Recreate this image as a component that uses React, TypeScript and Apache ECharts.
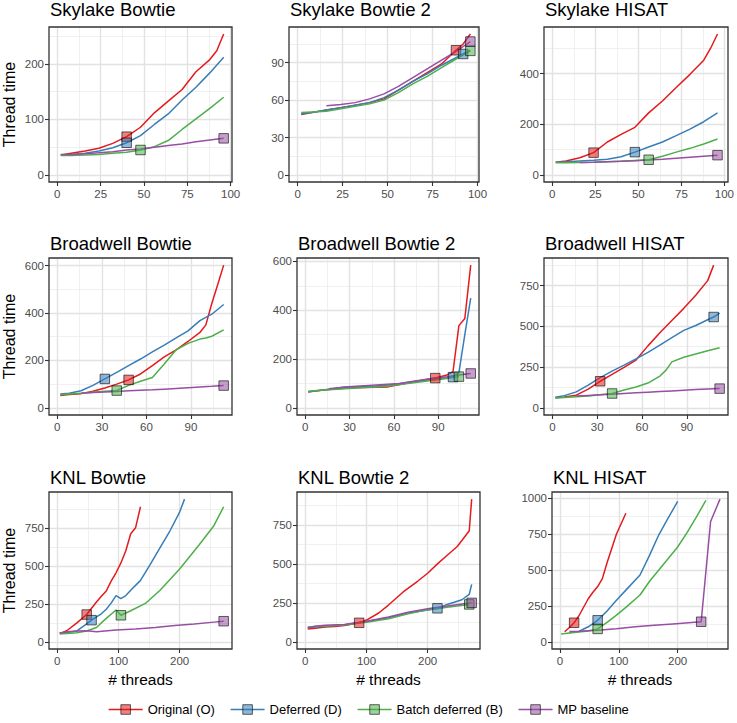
import React, { useEffect, useRef } from "react";
import * as echarts from "echarts";

const FONT = "'Liberation Sans', Arial, Helvetica, sans-serif";

const seriesNames = ["Original (O)", "Deferred (D)", "Batch deferred (B)", "MP baseline"];
const lineColors = ["#E41A1C", "#377EB8", "#4DAF4A", "#984EA3"];
const markerFills = ["rgba(228,26,28,0.55)", "rgba(55,126,184,0.55)", "rgba(77,175,74,0.55)", "rgba(152,78,163,0.55)"];

const panelTitles = [
  "Skylake Bowtie", "Skylake Bowtie 2", "Skylake HISAT",
  "Broadwell Bowtie", "Broadwell Bowtie 2", "Broadwell HISAT",
  "KNL Bowtie", "KNL Bowtie 2", "KNL HISAT",
];

// ---- Skylake Bowtie
const skyBowtieO = [[2,36],[8,39],[16,43],[24,48],[32,57],[40,69],[48,86],[56,112],[64,133],[72,154],[80,186],[88,208],[92,224],[96,254]];
const skyBowtieD = [[2,36],[8,37],[16,39],[24,43],[32,49],[40,58],[48,71],[56,91],[64,110],[72,135],[80,158],[88,184],[96,212]];
const skyBowtieB = [[2,35],[8,35],[16,36],[24,37],[32,39],[40,41],[48,45],[56,51],[64,62],[72,82],[80,101],[88,120],[96,140]];
const skyBowtieM = [[2,37],[8,37],[16,38],[24,40],[32,42],[40,45],[48,47],[56,50],[64,53],[72,56],[80,60],[88,63],[96,66]];
const skyBowtieMarkX = [40, 40, 48, 96];

// ---- Skylake Bowtie 2
const skyBowtie2O = [[2,48.5],[8,50],[16,52],[24,54],[32,56],[40,58],[48,61],[56,68],[64,75],[72,82],[80,89],[88,100],[92,105],[96,113]];
const skyBowtie2D = [[2,49],[8,50],[16,52],[24,54],[32,56],[40,58],[48,62],[56,68],[64,75],[72,81],[80,88],[88,94],[92,97],[96,100]];
const skyBowtie2B = [[2,50],[8,50.5],[16,51],[24,53],[32,55],[40,57],[48,60],[56,66],[64,73],[72,79],[80,86],[88,93],[96,99.5]];
const skyBowtie2M = [[16,55.5],[24,56.5],[32,58],[40,61],[48,65],[56,71],[64,78],[72,85],[80,92],[88,99],[96,107]];
const skyBowtie2MarkX = [88, 92, 96, 96];

// ---- Skylake HISAT
const skyHisatO = [[2,50],[8,55],[16,68],[24,88],[32,130],[40,160],[48,188],[56,245],[64,292],[72,345],[80,397],[88,453],[92,500],[96,556]];
const skyHisatD = [[2,50],[8,52],[16,55],[24,58],[32,62],[40,72],[48,90],[56,110],[64,130],[72,155],[80,181],[88,210],[96,245]];
const skyHisatB = [[2,48],[8,48],[16,49],[24,50],[32,52],[40,54],[48,57],[56,60],[64,74],[72,90],[80,105],[88,122],[96,142]];
const skyHisatM = [[16,49],[24,50],[32,52],[40,54],[48,56],[56,59],[64,62],[72,66],[80,70],[88,74],[96,78]];
const skyHisatMarkX = [24, 48, 56, 96];

// ---- Broadwell Bowtie
const bdwBowtieO = [[2,52],[8,56],[16,60],[24,70],[32,84],[40,100],[48,118],[56,143],[64,178],[72,215],[80,245],[88,280],[96,318],[100,350],[104,440],[108,520],[112,602]];
const bdwBowtieD = [[2,58],[8,62],[16,72],[24,95],[32,122],[40,150],[48,178],[56,206],[64,236],[72,265],[80,295],[88,325],[96,368],[104,395],[112,436]];
const bdwBowtieB = [[2,55],[8,58],[16,62],[24,66],[32,70],[40,73],[48,95],[56,112],[64,128],[72,185],[80,245],[88,272],[96,290],[100,295],[104,302],[112,329]];
const bdwBowtieM = [[16,62],[24,65],[32,67],[40,69],[48,72],[56,74],[64,76],[72,79],[80,82],[88,85],[96,88],[104,91],[112,94]];
const bdwBowtieMarkX = [48, 32, 40, 112];

// ---- Broadwell Bowtie 2
const bdwBowtie2O = [[2,65],[8,70],[16,75],[24,79],[32,82],[40,83],[48,84],[56,86],[64,96],[72,105],[80,114],[88,122],[96,135],[100,148],[104,337],[108,366],[112,585]];
const bdwBowtie2D = [[2,66],[8,70],[16,76],[24,82],[32,86],[40,88],[48,90],[56,94],[64,100],[72,106],[80,112],[88,118],[96,123],[100,126],[104,144],[108,300],[112,450]];
const bdwBowtie2B = [[2,68],[8,71],[16,74],[24,77],[32,80],[40,83],[48,86],[56,90],[64,96],[72,102],[80,108],[88,114],[96,120],[104,128]];
const bdwBowtie2M = [[16,78],[24,84],[32,88],[40,91],[48,94],[56,97],[64,100],[72,108],[80,115],[88,122],[96,128],[104,135],[112,141]];
const bdwBowtie2MarkX = [88, 100, 104, 112];

// ---- Broadwell HISAT
const bdwHisatO = [[2,62],[8,66],[16,78],[24,115],[32,163],[40,205],[48,248],[56,293],[64,380],[72,460],[80,535],[88,610],[96,690],[104,780],[108,875]];
const bdwHisatD = [[2,65],[8,75],[16,98],[24,140],[32,185],[40,225],[48,262],[56,300],[64,340],[72,385],[80,430],[88,475],[96,505],[104,540],[108,557],[112,581]];
const bdwHisatB = [[2,60],[8,63],[16,68],[24,73],[32,80],[40,88],[48,110],[56,128],[64,152],[72,195],[76,230],[80,282],[88,310],[96,330],[104,350],[112,368]];
const bdwHisatM = [[16,72],[24,76],[32,80],[40,84],[48,88],[56,92],[64,96],[72,100],[80,104],[88,108],[96,112],[104,115],[112,118]];
const bdwHisatMarkX = [32, 108, 40, 112];

// ---- KNL Bowtie
const knlBowtieO = [[4,59],[8,60],[16,75],[32,125],[48,180],[64,262],[72,300],[80,335],[88,400],[96,455],[104,520],[112,600],[120,712],[128,752],[136,890]];
const knlBowtieD = [[4,60],[16,62],[32,72],[48,118],[56,143],[64,165],[72,185],[80,215],[88,255],[96,305],[104,285],[112,305],[120,340],[136,405],[152,510],[168,620],[184,730],[200,855],[208,940]];
const knlBowtieB = [[4,52],[16,55],[32,60],[48,72],[64,95],[80,155],[96,210],[104,175],[120,205],[144,253],[168,340],[200,480],[232,640],[256,765],[272,890]];
const knlBowtieM = [[4,58],[16,66],[32,72],[48,73],[64,66],[96,78],[128,85],[160,95],[192,108],[224,118],[256,130],[272,136]];
const knlBowtieMarkX = [48, 56, 104, 272];

// ---- KNL Bowtie 2
const knlBowtie2O = [[4,82],[16,88],[32,95],[48,98],[64,105],[88,122],[100,140],[120,185],[136,236],[160,320],[184,390],[200,440],[216,500],[232,555],[248,610],[256,650],[268,712],[272,915]];
const knlBowtie2D = [[4,90],[16,95],[32,100],[64,110],[100,130],[136,155],[168,185],[200,205],[216,215],[232,240],[256,270],[268,305],[272,369]];
const knlBowtie2B = [[4,95],[16,98],[32,102],[64,108],[100,125],[136,148],[168,180],[200,205],[232,222],[268,240]];
const knlBowtie2M = [[4,90],[16,100],[32,106],[64,112],[88,125],[100,132],[136,160],[168,190],[200,212],[232,230],[272,250]];
const knlBowtie2MarkX = [88, 216, 268, 272];

// ---- KNL HISAT
const knlHisatO = [[8,70],[16,100],[24,133],[32,180],[48,300],[56,345],[64,385],[72,440],[80,550],[96,750],[112,895]];
const knlHisatD = [[16,65],[32,72],[48,105],[64,150],[80,215],[96,290],[112,360],[136,465],[152,600],[168,745],[184,862],[200,977]];
const knlHisatB = [[2,55],[16,62],[32,68],[48,75],[64,90],[80,135],[96,186],[112,240],[136,326],[152,420],[168,500],[184,580],[200,660],[216,760],[232,870],[248,984]];
const knlHisatM = [[16,72],[32,74],[64,80],[96,92],[128,105],[160,115],[192,125],[240,140],[256,837],[272,993]];
const knlHisatMarkX = [24, 64, 64, 240];

// ---- tick breaks
const xTicksSkylake = [0, 25, 50, 75, 100];
const xTicksBroadwell = [0, 30, 60, 90];
const xTicksKnl = [0, 100, 200];
const yTicksSkyBowtie = [0, 100, 200];
const yTicksSkyBowtie2 = [0, 30, 60, 90];
const yTicksSkyHisat = [0, 200, 400];
const yTicksBdwBowtie = [0, 200, 400, 600];
const yTicksBdwHisat = [0, 250, 500, 750];
const yTicksKnl = [0, 250, 500, 750];
const yTicksKnlHisat = [0, 250, 500, 750, 1000];

const panelSeries = [
  [skyBowtieO, skyBowtieD, skyBowtieB, skyBowtieM],
  [skyBowtie2O, skyBowtie2D, skyBowtie2B, skyBowtie2M],
  [skyHisatO, skyHisatD, skyHisatB, skyHisatM],
  [bdwBowtieO, bdwBowtieD, bdwBowtieB, bdwBowtieM],
  [bdwBowtie2O, bdwBowtie2D, bdwBowtie2B, bdwBowtie2M],
  [bdwHisatO, bdwHisatD, bdwHisatB, bdwHisatM],
  [knlBowtieO, knlBowtieD, knlBowtieB, knlBowtieM],
  [knlBowtie2O, knlBowtie2D, knlBowtie2B, knlBowtie2M],
  [knlHisatO, knlHisatD, knlHisatB, knlHisatM],
];
const panelMarkX = [skyBowtieMarkX, skyBowtie2MarkX, skyHisatMarkX, bdwBowtieMarkX, bdwBowtie2MarkX, bdwHisatMarkX, knlBowtieMarkX, knlBowtie2MarkX, knlHisatMarkX];
const panelXTicks = [xTicksSkylake, xTicksSkylake, xTicksSkylake, xTicksBroadwell, xTicksBroadwell, xTicksBroadwell, xTicksKnl, xTicksKnl, xTicksKnl];
const panelYTicks = [yTicksSkyBowtie, yTicksSkyBowtie2, yTicksSkyHisat, yTicksBdwBowtie, yTicksBdwBowtie, yTicksBdwHisat, yTicksKnl, yTicksKnl, yTicksKnlHisat];

// ---- layout (panel boxes in px)
const panelBoxes = [
  { left: 49, top: 27, width: 183, height: 155 },
  { left: 289, top: 27, width: 190, height: 155 },
  { left: 544, top: 27, width: 184, height: 155 },
  { left: 49, top: 258, width: 183, height: 157 },
  { left: 297, top: 258, width: 182, height: 157 },
  { left: 544, top: 258, width: 184, height: 157 },
  { left: 49, top: 492, width: 183, height: 157 },
  { left: 297, top: 492, width: 183, height: 157 },
  { left: 552, top: 492, width: 176, height: 157 },
];
const titleY = [9, 9, 9, 243, 243, 243, 477, 477, 477];

function minorBreaks(ticks: number[], lo: number, hi: number) {
  const step = ticks[1] - ticks[0];
  const out: number[] = [];
  for (let v = ticks[0] - step / 2; v <= hi; v += step) if (v >= lo) out.push(v);
  return out;
}

const fmt = (v: number) => String(Math.round(v));

function buildOption() {
  const grid: any[] = [];
  const xAxis: any[] = [];
  const yAxis: any[] = [];
  const series: any[] = [];
  const markerSeries: any[] = [];
  const graphic: any[] = [];

  panelSeries.forEach((sers, i) => {
    const box = panelBoxes[i];
    let xMax = 0, yMax = 0;
    sers.forEach((s) => s.forEach(([x, y]) => { xMax = Math.max(xMax, x); yMax = Math.max(yMax, y); }));
    const xlo = -0.05 * xMax, xhi = 1.05 * xMax;
    const ylo = -0.05 * yMax, yhi = 1.05 * yMax;
    const xt = panelXTicks[i].filter((v) => v >= xlo && v <= xhi);
    const yt = panelYTicks[i].filter((v) => v >= ylo && v <= yhi);

    grid.push({ left: box.left, top: box.top, width: box.width, height: box.height, show: false });
    xAxis.push({
      type: "value", gridIndex: i, min: xlo, max: xhi,
      axisLine: { show: false, onZero: false },
      axisTick: { show: true, length: 4, customValues: xt, lineStyle: { color: "#333333", width: 1.1 } },
      axisLabel: { customValues: xt, formatter: fmt, color: "#4D4D4D", fontSize: 11.5, margin: 6, fontFamily: FONT },
      splitLine: { show: false },
    });
    yAxis.push({
      type: "value", gridIndex: i, min: ylo, max: yhi,
      axisLine: { show: false, onZero: false },
      axisTick: { show: true, length: 4, customValues: yt, lineStyle: { color: "#333333", width: 1.1 } },
      axisLabel: { customValues: yt, formatter: fmt, color: "#4D4D4D", fontSize: 11.5, margin: 5, fontFamily: FONT },
      splitLine: { show: false },
    });

    const gl: any[] = [];
    minorBreaks(panelXTicks[i], xlo, xhi).forEach((v) => gl.push({ xAxis: v, lineStyle: { color: "#ECECEC", width: 0.8, type: "solid" } }));
    minorBreaks(panelYTicks[i], ylo, yhi).forEach((v) => gl.push({ yAxis: v, lineStyle: { color: "#ECECEC", width: 0.8, type: "solid" } }));
    xt.forEach((v) => gl.push({ xAxis: v, lineStyle: { color: "#E2E2E2", width: 1.4, type: "solid" } }));
    yt.forEach((v) => gl.push({ yAxis: v, lineStyle: { color: "#E2E2E2", width: 1.4, type: "solid" } }));
    series.push({
      type: "line", xAxisIndex: i, yAxisIndex: i, data: [], z: 1, silent: true,
      markLine: { silent: true, z: 1, zlevel: 0, symbol: ["none", "none"], label: { show: false }, animation: false, data: gl },
    });

    sers.forEach((s, k) => {
      series.push({
        type: "line", name: seriesNames[k], xAxisIndex: i, yAxisIndex: i,
        data: s, symbol: "rect", symbolSize: 9, showSymbol: false, z: 3,
        lineStyle: { color: lineColors[k], width: 1.5 },
        itemStyle: { color: markerFills[k], borderColor: "rgba(0,0,0,0.6)", borderWidth: 1 },
        emphasis: { disabled: true },
      });
      const mx = panelMarkX[i][k];
      const pt = s.find((p) => p[0] === mx);
      if (pt) {
        markerSeries.push({
          type: "scatter", name: seriesNames[k], xAxisIndex: i, yAxisIndex: i,
          data: [pt], symbol: "rect", symbolSize: 9.5, z: 5,
          itemStyle: { color: markerFills[k], borderColor: "rgba(0,0,0,0.6)", borderWidth: 1, opacity: 1 },
          emphasis: { disabled: true },
        });
      }
    });

    graphic.push({
      type: "rect", z: 100, silent: true,
      shape: { x: box.left, y: box.top, width: box.width, height: box.height },
      style: { fill: "none", stroke: "#333333", lineWidth: 1.3 },
    });
    graphic.push({
      type: "text", x: box.left + 1, y: titleY[i], z: 100,
      style: { text: panelTitles[i], fontSize: 18.5, fontFamily: FONT, fill: "#000000", align: "left", verticalAlign: "middle" },
    });
    if (i % 3 === 0) {
      graphic.push({
        type: "text", x: 9, y: box.top + box.height / 2, rotation: Math.PI / 2, z: 100,
        style: { text: "Thread time", fontSize: 16, fontFamily: FONT, fill: "#000000", align: "center", verticalAlign: "middle" },
      });
    }
    if (i >= 6) {
      graphic.push({
        type: "text", x: box.left + box.width / 2, y: 679, z: 100,
        style: { text: "# threads", fontSize: 15.5, fontFamily: FONT, fill: "#000000", align: "center", verticalAlign: "middle" },
      });
    }
  });

  return {
    animation: false,
    backgroundColor: "#ffffff",
    textStyle: { fontFamily: FONT },
    grid, xAxis, yAxis,
    series: [...series, ...markerSeries],
    graphic,
    legend: {
      data: seriesNames, left: "center", top: 698,
      itemWidth: 34, itemHeight: 12, itemGap: 15,
      selectedMode: false,
      textStyle: { fontSize: 13, color: "#000000", fontFamily: FONT },
      itemStyle: { borderWidth: 1, borderColor: "rgba(0,0,0,0.6)" },
      lineStyle: { width: 1.5 },
    },
  };
}

export default function App() {
  const ref = useRef<HTMLDivElement>(null);
  useEffect(() => {
    if (!ref.current) return;
    const chart = echarts.init(ref.current, null, { renderer: "svg" });
    chart.setOption(buildOption() as any);
    return () => chart.dispose();
  }, []);
  return (
    <div style={{ position: "fixed", left: 0, top: 0, width: 737, height: 723, background: "#fff" }}>
      <div ref={ref} style={{ width: 737, height: 723 }} />
    </div>
  );
}
